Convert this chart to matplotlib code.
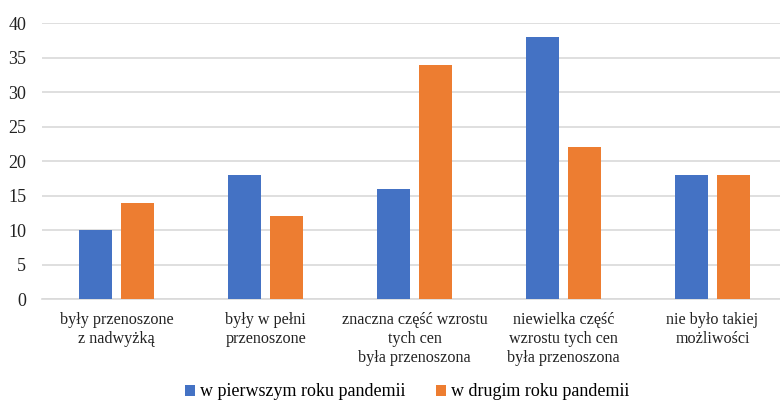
import numpy as np
import matplotlib.pyplot as plt

categories = ["były przenoszone\nz nadwyżką", "były w pełni\nprzenoszone",
              "znaczna część wzrostu\ntych cen\nbyła przenoszona",
              "niewielka część\nwzrostu tych cen\nbyła przenoszona",
              "nie było takiej\nmożliwości"]
first_year = [10, 18, 16, 38, 18]
second_year = [14, 12, 34, 22, 18]
series_names = ["w pierwszym roku pandemii", "w drugim roku pandemii"]

plt.rcParams['font.family'] = ['Liberation Serif', 'DejaVu Serif']

fig = plt.figure(figsize=(7.8, 4), dpi=100)
# plot area runs slightly past the right edge, like the original export
ax = fig.add_axes([0.054, 0.2525, 0.955, 0.689])

x = np.arange(len(categories))
w = 0.221
off = 0.141
ax.bar(x - off, first_year, w, color="#4472C4", label=series_names[0], zorder=3)
ax.bar(x + off, second_year, w, color="#ED7D31", label=series_names[1], zorder=3)

ax.set_xlim(-0.5, len(categories) - 0.5)
ax.set_ylim(0, 40)
ax.set_yticks(range(0, 41, 5))
ax.yaxis.grid(True, color="#d9d9d9", linewidth=1.2, zorder=0)
for s in ["top", "right", "left"]:
    ax.spines[s].set_visible(False)
ax.spines["bottom"].set_color("#d9d9d9")
ax.spines["bottom"].set_linewidth(1.2)
ax.tick_params(axis="both", length=0, labelsize=13, colors="#222222")
ax.tick_params(axis="y", pad=11.5)
ax.set_xticks(x)
ax.set_xticklabels(categories, fontsize=11.6, linespacing=1.25)
ax.tick_params(axis="x", pad=9.5)

fig.legend(loc="center", bbox_to_anchor=(0.522, 0.02), ncol=2, frameon=False,
           fontsize=13, handlelength=0.55, handleheight=0.55, handletextpad=0.3,
           columnspacing=1.7, borderaxespad=0)

fig.savefig("out.png", dpi=100)
